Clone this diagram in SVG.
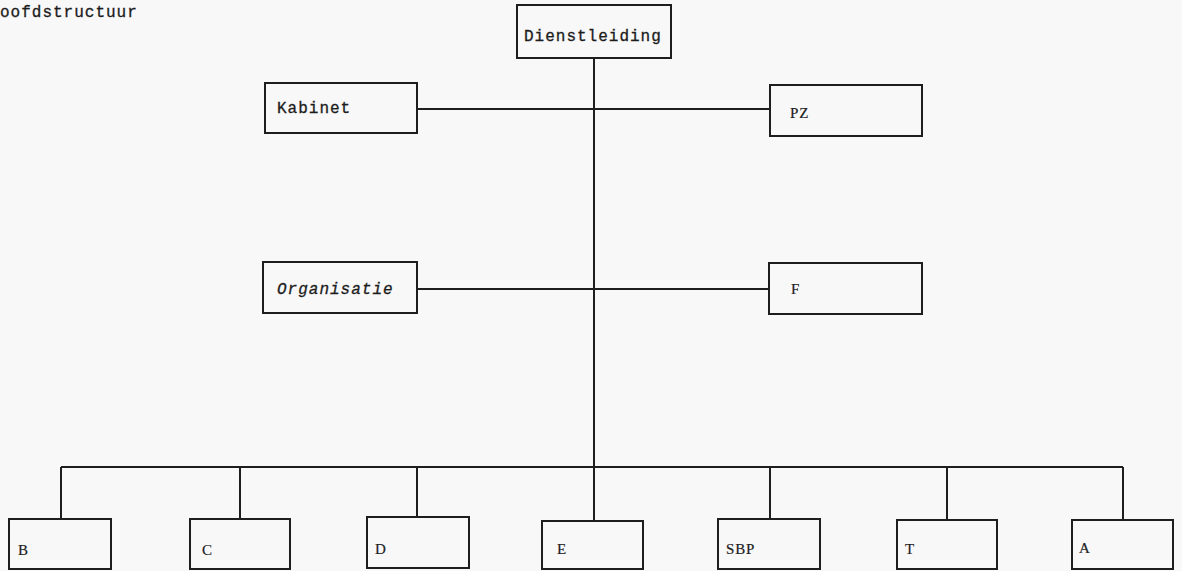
<svg xmlns="http://www.w3.org/2000/svg" width="1182" height="571" viewBox="0 0 1182 571">
<style>
.box{fill:none;stroke:#1e1e1e;stroke-width:2}
.ln{fill:none;stroke:#1e1e1e;stroke-width:2}
.mono{font-family:"Liberation Mono","DejaVu Sans Mono",monospace;font-size:16px;letter-spacing:1px;fill:#1c1c1c;stroke:#1c1c1c;stroke-width:0.3}
.ital{font-style:italic}
.serif{font-family:"Liberation Serif","DejaVu Serif",serif;font-size:15px;letter-spacing:0.8px;fill:#1c1c1c;stroke:#1c1c1c;stroke-width:0.2}
</style>
<rect width="1182" height="571" fill="#f8f8f8"/>
<text class="mono" x="0" y="17">oofdstructuur</text>
<g id="connectors">
<path class="ln" d="M594,58 V467"/>
<path class="ln" d="M417,109 H770"/>
<path class="ln" d="M417,289 H769"/>
<path class="ln" d="M61,467 H1123"/>
<path class="ln" d="M61,467 V519"/>
<path class="ln" d="M240,467 V519"/>
<path class="ln" d="M417,467 V517"/>
<path class="ln" d="M594,467 V521"/>
<path class="ln" d="M770,467 V519"/>
<path class="ln" d="M947,467 V520"/>
<path class="ln" d="M1123,467 V520"/>
</g>
<g id="dienstleiding"><rect class="box" x="517" y="5" width="154" height="53"/><text class="mono" x="524" y="41">Dienstleiding</text></g>
<g id="kabinet"><rect class="box" x="265" y="83" width="152" height="50"/><text class="mono" x="277" y="113">Kabinet</text></g>
<g id="pz"><rect class="box" x="770" y="85" width="152" height="51"/><text class="serif" x="790" y="118">PZ</text></g>
<g id="organisatie"><rect class="box" x="263" y="262" width="154" height="51"/><text class="mono ital" x="277" y="294">Organisatie</text></g>
<g id="f"><rect class="box" x="769" y="263" width="153" height="51"/><text class="serif" x="791" y="294">F</text></g>
<g id="b"><rect class="box" x="9" y="519" width="102" height="50"/><text class="serif" x="18" y="555">B</text></g>
<g id="c"><rect class="box" x="190" y="519" width="100" height="50"/><text class="serif" x="202" y="555">C</text></g>
<g id="d"><rect class="box" x="367" y="517" width="102" height="51"/><text class="serif" x="375" y="554">D</text></g>
<g id="e"><rect class="box" x="542" y="521" width="101" height="48"/><text class="serif" x="557" y="554">E</text></g>
<g id="sbp"><rect class="box" x="718" y="519" width="102" height="50"/><text class="serif" x="726" y="554">SBP</text></g>
<g id="t"><rect class="box" x="897" y="520" width="100" height="49"/><text class="serif" x="905" y="554">T</text></g>
<g id="a"><rect class="box" x="1072" y="520" width="101" height="49"/><text class="serif" x="1079" y="553">A</text></g>
</svg>
